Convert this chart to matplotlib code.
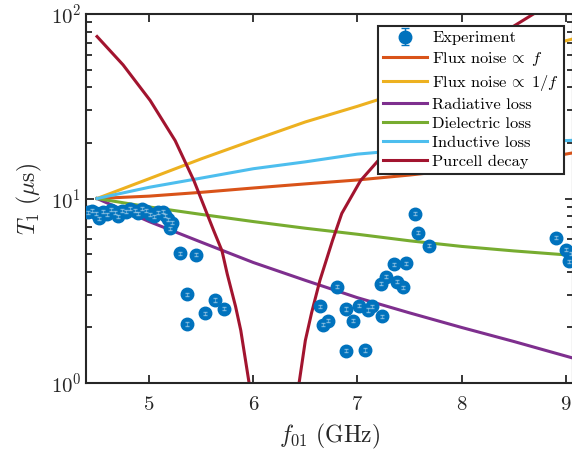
import numpy as np
import matplotlib
matplotlib.use("Agg")
import matplotlib.pyplot as plt

plt.rcParams["font.family"] = "serif"
plt.rcParams["font.serif"] = ["cmr10"]
plt.rcParams["mathtext.fontset"] = "cm"
plt.rcParams["axes.formatter.use_mathtext"] = True

# measured T1 vs qubit frequency
exp_f = [4.41, 4.45, 4.49, 4.52, 4.56, 4.60, 4.63, 4.67, 4.70, 4.74, 4.78, 4.82,
         4.86, 4.89, 4.93, 4.97, 5.01, 5.05, 5.09, 5.13, 5.15, 5.18, 5.20, 5.22,
         5.30, 5.45, 5.36, 5.63, 5.72, 5.54, 5.36,
         6.80, 6.64, 6.89, 7.02, 7.14, 7.10, 7.24, 6.72, 6.67, 6.96, 6.89, 7.07,
         7.35, 7.47, 7.27, 7.23, 7.38, 7.44, 7.55, 7.58, 7.69,
         8.91, 9.00, 9.05, 9.03]
exp_t1 = [8.4, 8.6, 8.3, 7.8, 8.5, 8.2, 8.7, 8.4, 8.0, 8.6, 8.5, 8.8,
          8.6, 8.3, 8.8, 8.6, 8.2, 8.0, 8.4, 8.5, 8.1, 7.7, 6.9, 7.4,
          5.05, 4.97, 3.02, 2.82, 2.53, 2.39, 2.09,
          3.33, 2.61, 2.52, 2.62, 2.61, 2.49, 2.30, 2.18, 2.07, 2.18, 1.50, 1.51,
          4.39, 4.46, 3.76, 3.45, 3.54, 3.31, 8.29, 6.54, 5.56,
          6.12, 5.29, 5.03, 4.56]

# model curves
model_f = [4.5, 5.0, 5.5, 6.0, 6.5, 7.0, 7.5, 8.0, 8.5, 9.0, 9.1]
flux_f = [10.0, 10.3, 10.8, 11.4, 12.0, 12.6, 13.4, 14.4, 15.6, 17.4, 17.8]
flux_1f = [10.0, 12.8, 16.4, 20.7, 26.0, 31.6, 38.9, 47.9, 58.9, 71.6, 74.0]
radiative = [10.0, 7.5, 5.8, 4.5, 3.6, 2.9, 2.4, 2.0, 1.68, 1.40, 1.35]
dielectric = [10.0, 9.0, 8.2, 7.5, 6.9, 6.4, 5.9, 5.5, 5.2, 4.95, 4.9]
inductive = [10.0, 11.5, 12.9, 14.5, 15.8, 17.4, 18.4, 19.3, 20.0, 20.6, 20.7]

purcell_lo_f = [4.50, 4.75, 5.01, 5.25, 5.43, 5.62, 5.70, 5.75, 5.83, 5.88, 5.96]
purcell_lo_t1 = [75.5, 53.0, 34.0, 20.6, 12.5, 6.7, 5.2, 3.9, 2.6, 1.93, 1.0]
purcell_hi_f = [6.44, 6.50, 6.56, 6.64, 6.76, 6.85, 7.03, 7.50, 8.00, 8.48, 8.69]
purcell_hi_t1 = [1.0, 1.7, 2.4, 3.6, 5.9, 8.3, 12.5, 25.0, 47.0, 84.5, 100.0]

blue = "#0072BD"
fig = plt.figure(figsize=(5.72, 4.57), dpi=100)
ax = fig.add_axes([86 / 572, 1 - 383 / 457, 487 / 572, 369 / 457])

lw = 2.2
eb = ax.errorbar(exp_f, exp_t1, yerr=[0.02 * t for t in exp_t1], fmt="o", color=blue,
                 ecolor=blue, ms=9, capsize=3, elinewidth=1, label="Experiment", zorder=3)
ax.errorbar(exp_f, exp_t1, yerr=[0.02 * t for t in exp_t1], fmt="none", ecolor="white",
            elinewidth=0.5, capsize=1.5, alpha=0.45, zorder=4)
ax.plot(model_f, flux_f, color="#D95319", lw=lw, label=r"Flux noise $\!\propto\;f$")
ax.plot(model_f, flux_1f, color="#EDB120", lw=lw, label=r"Flux noise $\!\propto\;1/f$")
ax.plot(model_f, radiative, color="#7E2F8E", lw=lw, label="Radiative loss")
ax.plot(model_f, dielectric, color="#77AC30", lw=lw, label="Dielectric loss")
ax.plot(model_f, inductive, color="#4DBEEE", lw=lw, label="Inductive loss")
ax.plot(purcell_lo_f, purcell_lo_t1, color="#A2142F", lw=lw, label="Purcell decay")
ax.plot(purcell_hi_f, purcell_hi_t1, color="#A2142F", lw=lw)

ax.set_yscale("log")
ax.set_xlim(4.394, 9.07)
ax.set_ylim(1, 100)
ax.set_xticks([5, 6, 7, 8, 9])
ax.minorticks_on()
ax.xaxis.set_minor_locator(matplotlib.ticker.NullLocator())
ax.tick_params(which="both", direction="in", top=True, right=True, colors="#262626",
               width=1.3, labelsize=15)
ax.tick_params(which="major", length=6)
ax.tick_params(which="minor", length=4)
ax.tick_params(axis="x", pad=9)
for s in ax.spines.values():
    s.set_linewidth(1.5)
    s.set_color("#262626")

ax.set_xlabel(r"$f_{01}\ (\mathrm{GHz})$", fontsize=17, color="#262626", labelpad=6)
ax.set_ylabel(r"$T_1\ (\mu\mathrm{s})$", fontsize=17, color="#262626", labelpad=5)

handles, labels = ax.get_legend_handles_labels()
order = [labels.index("Experiment")] + [i for i, l in enumerate(labels) if l != "Experiment"]
leg = ax.legend([handles[i] for i in order], [labels[i] for i in order],
                loc="upper right", bbox_to_anchor=(0.9815, 0.9675), borderaxespad=0,
                fontsize=11.8, fancybox=False, framealpha=1, edgecolor="#262626",
                handlelength=2.7, handletextpad=0.3, labelspacing=0.28, borderpad=0.3)
leg.get_frame().set_linewidth(1.5)

fig.savefig("out.png", dpi=100)
